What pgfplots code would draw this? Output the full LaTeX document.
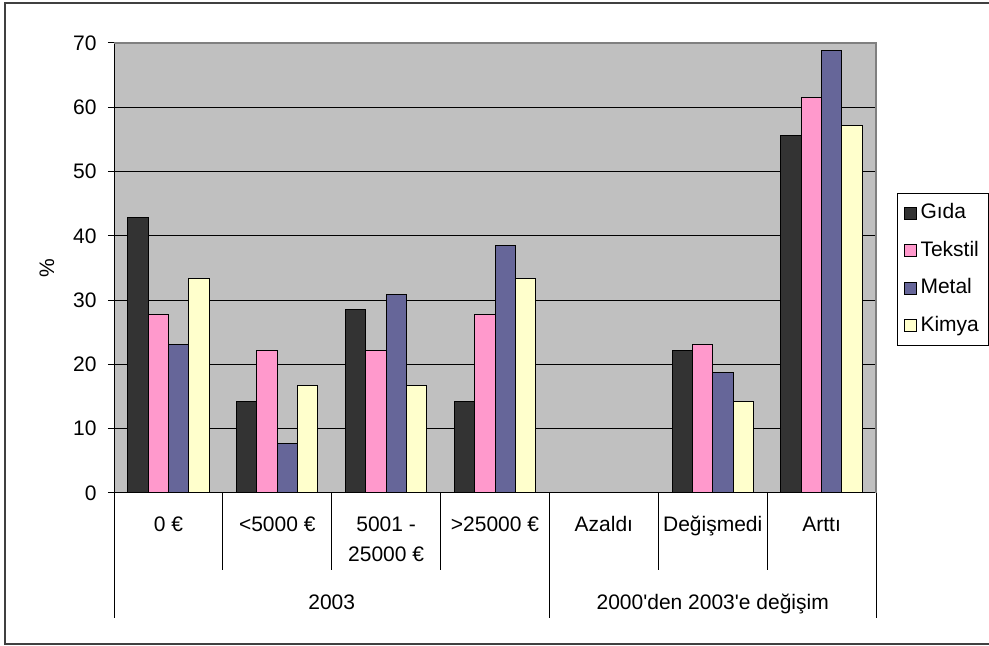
\documentclass[border=0pt]{standalone}
\usepackage{pgfplots}
\pgfplotsset{compat=1.18}
\usepackage{fontspec}
\setmainfont{Liberation Sans}
\definecolor{cGida}{HTML}{333333}
\definecolor{cTekstil}{HTML}{FF99CC}
\definecolor{cMetal}{HTML}{666699}
\definecolor{cKimya}{HTML}{FFFFCC}
\definecolor{plotbg}{HTML}{C0C0C0}
\newcommand{\fsz}{\fontsize{21bp}{24bp}\selectfont}
\pgfplotsset{mylegend/.style={legend image code/.code={\draw[##1, line width=1bp, draw=black] (0bp,-6bp) rectangle (12bp,6bp);}}}
\begin{document}
\begin{tikzpicture}[x=1bp,y=1bp]
\useasboundingbox (0,0) rectangle (989,646);
\draw[line width=1.5bp, black!75] (5,2) rectangle (1000,643);
\begin{axis}[
  at={(114bp,153bp)}, anchor=south west,
  scale only axis, width=762bp, height=450bp,
  xmin=-0.5, xmax=6.5, ymin=0, ymax=70,
  enlargelimits=false,
  clip=false,
  ybar=0pt, bar width=20.3bp,
  axis background/.style={fill=plotbg},
  axis x line*=bottom, axis y line*=left,
  axis line style={black, line width=1bp, -},
  xtick=\empty,
  ytick={0,10,...,70},
  ymajorgrids, grid style={black, line width=1bp},
  tick align=outside, major tick length=6bp,
  ytick style={black, line width=1bp},
  /pgf/number format/assume math mode=true,
  yticklabel style={font=\fsz, xshift=-8bp},
  ylabel={\%},
  ylabel style={font=\fsz, at={(axis description cs:-0.088,0.5)}, anchor=center},
  legend style={at={(rel axis cs:1.0276,0.6674)}, anchor=north west, draw=black, line width=1bp, fill=white, font=\fsz,
    inner xsep=6bp, inner ysep=8.5bp, row sep=14.5bp,
    nodes={inner ysep=2bp, inner xsep=4bp, text height=15bp, text depth=4bp}},
  legend cell align=left,
]
\addplot[fill=cGida, draw=black, line width=1bp, mylegend] coordinates {(0,42.9) (1,14.3) (2,28.6) (3,14.3) (5,22.2) (6,55.6)};
\addplot[fill=cTekstil, draw=black, line width=1bp, mylegend] coordinates {(0,27.8) (1,22.2) (2,22.2) (3,27.8) (5,23.1) (6,61.5)};
\addplot[fill=cMetal, draw=black, line width=1bp, mylegend] coordinates {(0,23.1) (1,7.7) (2,30.8) (3,38.5) (5,18.8) (6,68.8)};
\addplot[fill=cKimya, draw=black, line width=1bp, mylegend] coordinates {(0,33.3) (1,16.7) (2,16.7) (3,33.3) (5,14.3) (6,57.1)};
\legend{Gıda, Tekstil, Metal, Kimya}
\draw[gray, line width=1.2bp] (rel axis cs:0,1) -- (rel axis cs:1,1) -- (rel axis cs:1,0);
% category separators
\pgfplotsinvokeforeach{0.5,1.5,2.5,4.5,5.5}{
  \draw[black, line width=1bp] (axis cs:#1,0) -- ([yshift=-77bp]axis cs:#1,0);
}
\pgfplotsinvokeforeach{-0.5,3.5,6.5}{
  \draw[black, line width=1bp] (axis cs:#1,0) -- ([yshift=-125bp]axis cs:#1,0);
}
% category labels
\node[font=\fsz, anchor=base] at ([yshift=-39bp]axis cs:0,0) {0 €};
\node[font=\fsz, anchor=base] at ([yshift=-39bp]axis cs:1,0) {<5000 €};
\node[font=\fsz, anchor=base] at ([yshift=-39bp]axis cs:2,0) {5001 -};
\node[font=\fsz, anchor=base] at ([yshift=-69bp]axis cs:2,0) {25000 €};
\node[font=\fsz, anchor=base] at ([yshift=-39bp]axis cs:3,0) {>25000 €};
\node[font=\fsz, anchor=base] at ([yshift=-39bp]axis cs:4,0) {Azaldı};
\node[font=\fsz, anchor=base] at ([yshift=-39bp]axis cs:5,0) {Değişmedi};
\node[font=\fsz, anchor=base] at ([yshift=-39bp]axis cs:6,0) {Arttı};
\node[font=\fsz, anchor=base] at ([yshift=-117bp]axis cs:1.5,0) {2003};
\node[font=\fsz, anchor=base] at ([yshift=-117bp]axis cs:5,0) {2000\textquotesingle den 2003\textquotesingle e değişim};
\end{axis}
\end{tikzpicture}
\end{document}
